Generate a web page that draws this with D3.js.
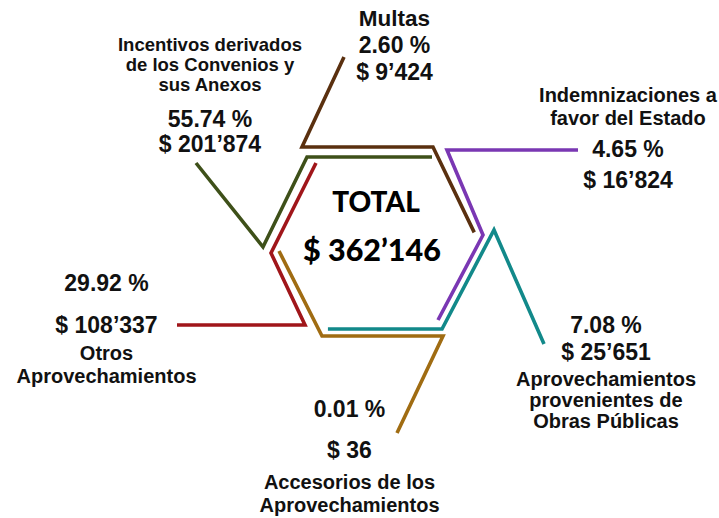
<!DOCTYPE html>
<html>
<head>
<meta charset="utf-8">
<script src="https://cdn.jsdelivr.net/npm/d3@7"></script>
<style>
html, body { margin: 0; padding: 0; background: #fff; }
svg { display: block; }
text { font-family: "Liberation Sans", Arial, sans-serif; font-weight: bold; fill: #111; }
.total { font-family: Lato, "Open Sans", sans-serif; font-weight: 900; fill: #000; }
</style>
</head>
<body>
<svg id="chart"></svg>
<script>
const width = 719
const height = 518

// datos
const categorias = [
    'Multas',
    'Incentivos derivados\nde los Convenios y\nsus Anexos',
    'Otros\nAprovechamientos',
    'Accesorios de los\nAprovechamientos',
    'Aprovechamientos\nprovenientes de\nObras Públicas',
    'Indemnizaciones a\nfavor del Estado'
]
const porcentajes = [2.60, 55.74, 29.92, 0.01, 7.08, 4.65]
const montos = [9424, 201874, 108337, 36, 25651, 16824]
const total = 362146

const colores = ['#5a300f', '#3e5019', '#a0161a', '#a06c12', '#12898a', '#7a37b3']

// cada serie recorre dos lados de un hexagono (vertices: 0=der, 1=abajo der, 2=abajo izq, 3=izq, 4=arriba izq, 5=arriba der)
const hexagonos = [
    { cx: 367.5, cy: 235, b: 108, aT: 65.5, hT: 88, ruta: [4, 5, 0], fin: 0.97, punta: [344, 57], puntaAntes: true },
    { cx: 369.5, cy: 247, b: 106.5, aT: 62.5, hT: 90, ruta: [5, 4, 3], punta: [196, 163] },
    { cx: 377, cy: 253, b: 106, aT: 61, aB: 72, hT: 90, hB: 72, ruta: [4, 3, 2], punta: [177, 325] },
    { cx: 382.5, cy: 251, b: 103.5, aB: 60.5, hB: 85, ruta: [3, 2, 1], punta: [397, 433] },
    { cx: 380, cy: 230, b: 114, aB: 62, hB: 99, ruta: [2, 1, 0], ini: 0.08, punta: [544, 344] },
    { cx: 380, cy: 235, b: 103, aT: 67, aB: 58, hT: 85, hB: 85, ruta: [1, 0, 5], punta: [578, 150] }
]

const etiquetas = [
    { x: 394.5, filas: [['nombre', 26], ['pct', 53], ['monto', 80]], tamNombre: 22.5 },
    { x: 210, filas: [['nombre', 51], ['nombre', 71], ['nombre', 91], ['pct', 127], ['monto', 152]], tamNombre: 18.5 },
    { x: 106.5, filas: [['pct', 291], ['monto', 333], ['nombre', 360], ['nombre', 383]] },
    { x: 349.5, filas: [['pct', 417], ['monto', 458], ['nombre', 489], ['nombre', 512]] },
    { x: 606, filas: [['pct', 333], ['monto', 360], ['nombre', 386], ['nombre', 407], ['nombre', 428]] },
    { x: 628, filas: [['nombre', 102], ['nombre', 125], ['pct', 157], ['monto', 188]] }
]

const locale = d3.formatLocale({ decimal: '.', thousands: '\u2019', grouping: [3], currency: ['$ ', ''] })
const fmtMonto = locale.format('$,')
const fmtPct = d => d3.format('.2f')(d) + ' %'

const color = d3.scaleOrdinal().domain(categorias).range(colores)

const svg = d3.select('#chart')
    .attr('width', width)
    .attr('height', height)
    .attr('viewBox', [0, 0, width, height])

const vertices = h => {
    const aT = h.aT ?? 63, aB = h.aB ?? aT, b = h.b ?? 106
    const hT = h.hT ?? 88, hB = h.hB ?? hT
    return [
        [h.cx + b, h.cy], [h.cx + aB, h.cy + hB], [h.cx - aB, h.cy + hB],
        [h.cx - b, h.cy], [h.cx - aT, h.cy - hT], [h.cx + aT, h.cy - hT]
    ]
}

const mezcla = (p, q, t) => [p[0] + (q[0] - p[0]) * t, p[1] + (q[1] - p[1]) * t]

const puntosRuta = h => {
    const v = vertices(h)
    let pts = h.ruta.map(k => v[k])
    if (h.ini) pts[0] = mezcla(pts[0], pts[1], h.ini)
    if (h.fin) pts[pts.length - 1] = mezcla(pts[pts.length - 2], pts[pts.length - 1], h.fin)
    return h.puntaAntes ? [h.punta].concat(pts) : pts.concat([h.punta])
}

const line = d3.line()

svg.append('g')
    .selectAll('path')
    .data(categorias)
    .join('path')
    .attr('d', (d, i) => line(puntosRuta(hexagonos[i])))
    .attr('fill', 'none')
    .attr('stroke', d => color(d))
    .attr('stroke-width', 3.6)
    .attr('stroke-linejoin', 'miter')

// etiquetas
categorias.forEach((cat, i) => {
    const et = etiquetas[i]
    const nombres = cat.split('\n')
    let n = 0
    const g = svg.append('g').attr('text-anchor', 'middle')
    et.filas.forEach(([tipo, y]) => {
        let txt, tam
        if (tipo == 'nombre') {
            txt = nombres[n++]
            tam = et.tamNombre || 20
        } else if (tipo == 'pct') {
            txt = fmtPct(porcentajes[i])
            tam = 23
        } else {
            txt = fmtMonto(montos[i])
            tam = 23
        }
        g.append('text')
            .attr('x', et.x)
            .attr('y', y)
            .style('font-size', tam + 'px')
            .text(txt)
    })
})

// total al centro
svg.append('text')
    .attr('class', 'total')
    .attr('x', 376)
    .attr('y', 211.5)
    .attr('text-anchor', 'middle')
    .style('font-size', '28px')
    .text('TOTAL')

svg.append('text')
    .attr('class', 'total')
    .attr('x', 372)
    .attr('y', 261)
    .attr('text-anchor', 'middle')
    .style('font-size', '30.5px')
    .text(fmtMonto(total))
</script>
</body>
</html>
